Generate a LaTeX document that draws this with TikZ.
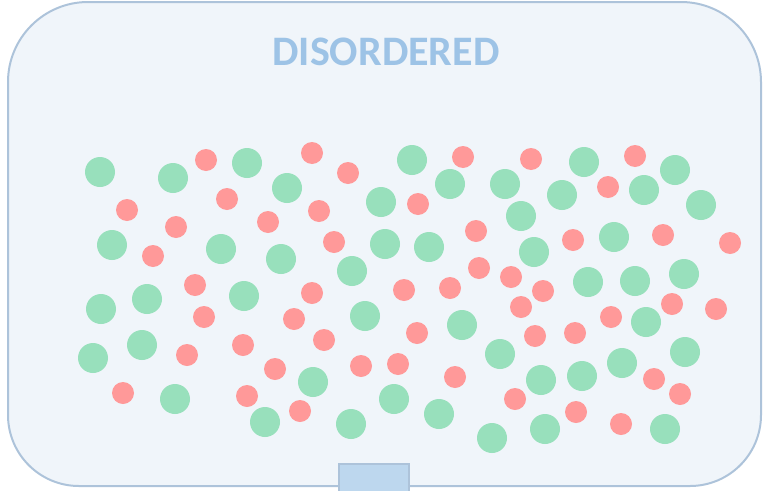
\documentclass[tikz,border=0pt]{standalone}
\usepackage{fontspec}
\newfontfamily\titlefont{Carlito}
\usepackage{xcolor}
\usepackage{tikz}
\definecolor{boxfill}{HTML}{F0F5FA}
\definecolor{boxline}{HTML}{ADC3DA}
\definecolor{tabfill}{HTML}{BDD7EE}
\definecolor{titleblue}{HTML}{9DC3E6}
\definecolor{molgreen}{HTML}{98E0BC}
\definecolor{molred}{HTML}{FF9999}

\begin{document}
\begin{tikzpicture}[x=1pt, y=-1pt]
\tikzset{
  frame/.style={draw=boxline,line width=2pt,fill=boxfill},
  tab/.style={rectangle,draw=boxline,line width=2pt,fill=tabfill,minimum width=70pt,minimum height=30pt,inner sep=0pt},
  big/.style={circle,fill=molgreen,minimum size=30pt,inner sep=0pt},
  small/.style={circle,fill=molred,minimum size=22pt,inner sep=0pt},
  ttl/.style={font=\titlefont\bfseries\fontsize{42}{50}\selectfont,text=titleblue,inner sep=0pt}
}
\useasboundingbox (0,0) rectangle (763,490);
% ---- container
\draw[frame] (8,244) [rounded corners=80pt] |- (384,2) -| (761,244)
  [rounded corners=71pt] |- (384,486) -| cycle;
\node[ttl] (title) at (386,52) {DISORDERED};
% ---- green molecules
\foreach \x/\y [count=\i] in {100/172,173/178,247/163,287/188,412/160,450/184,381/202,505/184,584/162,675/170,
  562/195,644/190,701/205,521/216,112/245,221/249,281/259,385/244,429/247,534/252,614/237,352/271,588/282,
  635/281,684/274,101/309,147/299,244/296,365/316,462/325,646/322,93/358,142/345,500/354,622/363,685/352,
  313/382,541/380,582/376,175/399,394/399,439/414,265/422,351/424,492/438,545/429,665/429}
  \node[big] (g\i) at (\x,\y) {};
% ---- red molecules
\foreach \x/\y [count=\i] in {206/160,312/153,348/173,463/157,531/159,635/156,127/210,227/199,268/222,319/211,
  418/204,608/187,176/227,153/256,334/242,476/231,573/240,663/235,730/243,195/285,312/293,404/290,450/288,
  479/268,511/277,543/291,204/317,294/319,324/340,417/333,521/307,611/317,672/304,716/309,535/336,575/333,
  187/355,243/345,275/369,361/366,398/364,455/377,654/379,680/394,123/393,247/396,300/411,515/399,576/412,621/424}
  \node[small] (r\i) at (\x,\y) {};
% ---- outlet
\node[tab,anchor=north] (tab) at (374,463) {};
\end{tikzpicture}
\end{document}
